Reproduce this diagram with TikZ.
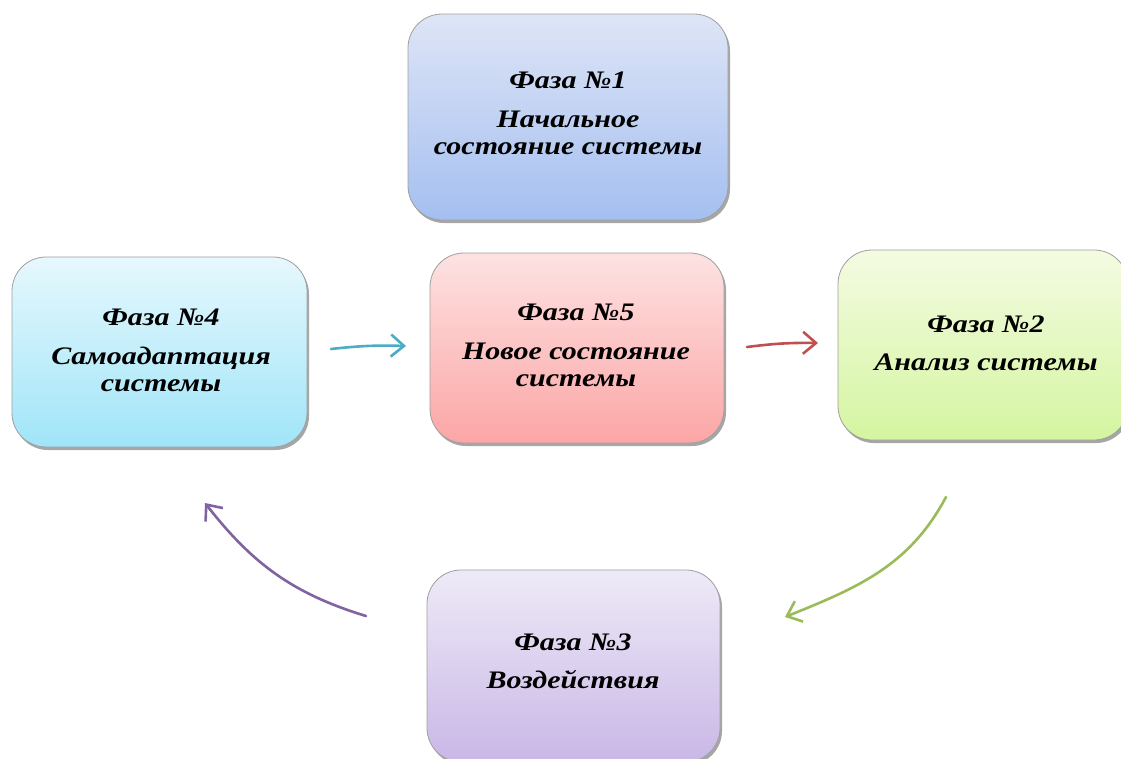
\documentclass[tikz,border=0pt]{standalone}
\usepackage{fontspec}
\setmainfont{Liberation Serif}
\usetikzlibrary{arrows.meta,shadows,calc}
\newcommand\ptxt[1]{\scalebox{1.25}[1.05]{\begin{tabular}{@{}c@{}}#1\end{tabular}}}
\begin{document}
\begin{tikzpicture}[x=1pt,y=1pt,
  phase/.style={draw=gray!75, line width=0.8pt, rounded corners=34pt,
    drop shadow={shadow xshift=2pt, shadow yshift=-3pt, fill=black, opacity=0.35},
    align=center, inner sep=0pt},
  ptext/.style={font=\fontsize{24}{26}\selectfont\bfseries\itshape},
  conn/.style={line width=2.6pt, line cap=round, -{Straight Barb[length=13pt,width=22pt,line width=2.6pt]}}
]
\useasboundingbox (0,0) rectangle (1121,-758);
\begin{scope}
\clip (0,0) rectangle (1121,-758);
\node[phase, top color={rgb,255:red,222;green,229;blue,246}, bottom color={rgb,255:red,164;green,191;blue,240},
  minimum width=320, minimum height=206] (b1) at (568,-117) {};
\node[ptext] (t1) at (568,-116)
  {\ptxt{Фаза №1\\[11pt] Начальное\\ состояние системы}};
\node[phase, top color={rgb,255:red,230;green,248;blue,253}, bottom color={rgb,255:red,160;green,229;blue,248},
  minimum width=295, minimum height=190] (b4) at (159.5,-352) {};
\node[ptext] (t4) at (161,-353)
  {\ptxt{Фаза №4\\[11pt] Самоадаптация\\ системы}};
\node[phase, top color={rgb,255:red,253;green,226;blue,226}, bottom color={rgb,255:red,252;green,166;blue,166},
  minimum width=294, minimum height=190] (b5) at (577,-348) {};
\node[ptext] (t5) at (576,-348)
  {\ptxt{Фаза №5\\[11pt] Новое состояние\\ системы}};
\node[phase, top color={rgb,255:red,244;green,251;blue,226}, bottom color={rgb,255:red,212;green,245;blue,160},
  minimum width=290, minimum height=190] (b2) at (983,-345) {};
\node[ptext] (t2) at (986,-346)
  {\ptxt{Фаза №2\\[11pt] Анализ системы}};
\node[phase, top color={rgb,255:red,238;green,234;blue,247}, bottom color={rgb,255:red,201;green,183;blue,230},
  minimum width=293, minimum height=192] (b3) at (573.5,-666) {};
\node[ptext] (t3) at (573,-664)
  {\ptxt{Фаза №3\\[11pt] Воздействия}};
\end{scope}
\coordinate (c4s) at (331,-349);
\coordinate (c4e) at (406,-346);
\coordinate (c5s) at (747,-347);
\coordinate (c5e) at (818,-343);
\coordinate (c2s) at (946,-497);
\coordinate (c2e) at (785,-617);
\coordinate (c3s) at (366,-616);
\coordinate (c3e) at (205,-503);
\draw[conn, draw={rgb,255:red,75;green,172;blue,198}] (c4s) to[bend left=4] (c4e);
\draw[conn, draw={rgb,255:red,192;green,80;blue,77}] (c5s) to[bend left=4] (c5e);
\draw[conn, draw={rgb,255:red,155;green,187;blue,89}] (c2s) to[out=-118, in=22] (c2e);
\draw[conn, draw={rgb,255:red,128;green,100;blue,162}] (c3s) to[out=163, in=-52] (c3e);
\end{tikzpicture}
\end{document}
